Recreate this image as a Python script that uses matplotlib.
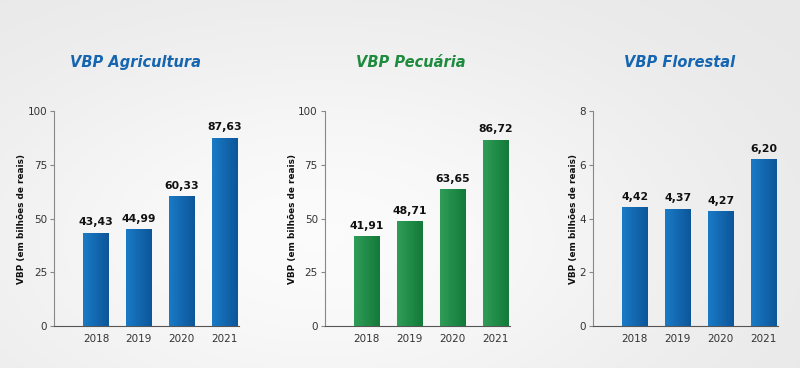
import matplotlib.pyplot as plt
import numpy as np
from matplotlib.colors import LinearSegmentedColormap

# Dados: VBP (em bilhões de reais)
anos = ['2018', '2019', '2020', '2021']
agricultura = [43.43, 44.99, 60.33, 87.63]
pecuaria = [41.91, 48.71, 63.65, 86.72]
florestal = [4.42, 4.37, 4.27, 6.20]

titulos = ['VBP Agricultura', 'VBP Pecuária', 'VBP Florestal']
cores_titulo = ['#1565b0', '#1f8b3f', '#1565b0']
cores_barra = [('#1a7ac6', '#0c5699'), ('#2f9d57', '#137a3a'), ('#1a7ac6', '#0c5699')]
limites = [(100, [0, 25, 50, 75, 100]), (100, [0, 25, 50, 75, 100]), (8, [0, 2, 4, 6, 8])]
series = [agricultura, pecuaria, florestal]

fig = plt.figure(figsize=(8, 3.68), dpi=100)
fig.patch.set_facecolor('#ececec')

# fundo suave (gradiente claro)
bg = fig.add_axes([0, 0, 1, 1], zorder=-10)
gx, gy = np.meshgrid(np.linspace(-1, 1, 200), np.linspace(-1, 1, 100))
fundo = np.exp(-((gx + 0.2) ** 2 / 1.0 + (gy - 0.3) ** 2 / 1.5))
bg.imshow(fundo, cmap=LinearSegmentedColormap.from_list('f', ['#e8e8e8', '#fbfbfb']),
          aspect='auto', extent=[0, 1, 0, 1])
bg.axis('off')

esquerdas = [0.0675, 0.406, 0.741]
centros_titulo = [0.169, 0.514, 0.85]

for i in range(3):
    ax = fig.add_axes([esquerdas[i], 0.114, 0.231, 0.584])
    ax.patch.set_alpha(0)
    x = np.arange(len(anos))
    vals = series[i]
    ymax, yticks = limites[i]
    c1, c2 = cores_barra[i]
    barras = ax.bar(x, vals, width=0.6, color=c1, zorder=2)
    # gradiente horizontal em cada barra
    grad = np.linspace(0, 1, 50).reshape(1, -1)
    cmap = LinearSegmentedColormap.from_list('g', [c1, c2])
    for b in barras:
        im = ax.imshow(grad, cmap=cmap, aspect='auto', zorder=3,
                       extent=[b.get_x(), b.get_x() + b.get_width(), 0, b.get_height()])
        im.set_clip_path(b)
    for xi, v in zip(x, vals):
        ax.text(xi, v + ymax * 0.025, f'{v:.2f}'.replace('.', ','), ha='center', va='bottom',
                fontsize=7.8, fontweight='bold', color='#111111')
    ax.set_xlim(-0.98, 3.33)
    ax.set_ylim(0, ymax)
    ax.set_yticks(yticks)
    ax.set_xticks(x)
    ax.set_xticklabels(anos)
    ax.spines['top'].set_visible(False)
    ax.spines['right'].set_visible(False)
    ax.spines['left'].set_color('#888888')
    ax.spines['bottom'].set_color('#555555')
    ax.tick_params(axis='x', length=0, pad=6, labelsize=7.5, labelcolor='#333333')
    ax.tick_params(axis='y', length=3, color='#888888', pad=2, labelsize=7.5, labelcolor='#333333')
    ax.set_ylabel('VBP (em bilhões de reais)', fontsize=6.4, fontweight='bold', color='#111111', labelpad=1)
    fig.text(centros_titulo[i], 0.83, titulos[i], ha='center', va='center',
             fontsize=10.5, fontweight='bold', style='italic', color=cores_titulo[i])

fig.savefig('out.png', dpi=100, facecolor=fig.get_facecolor())
